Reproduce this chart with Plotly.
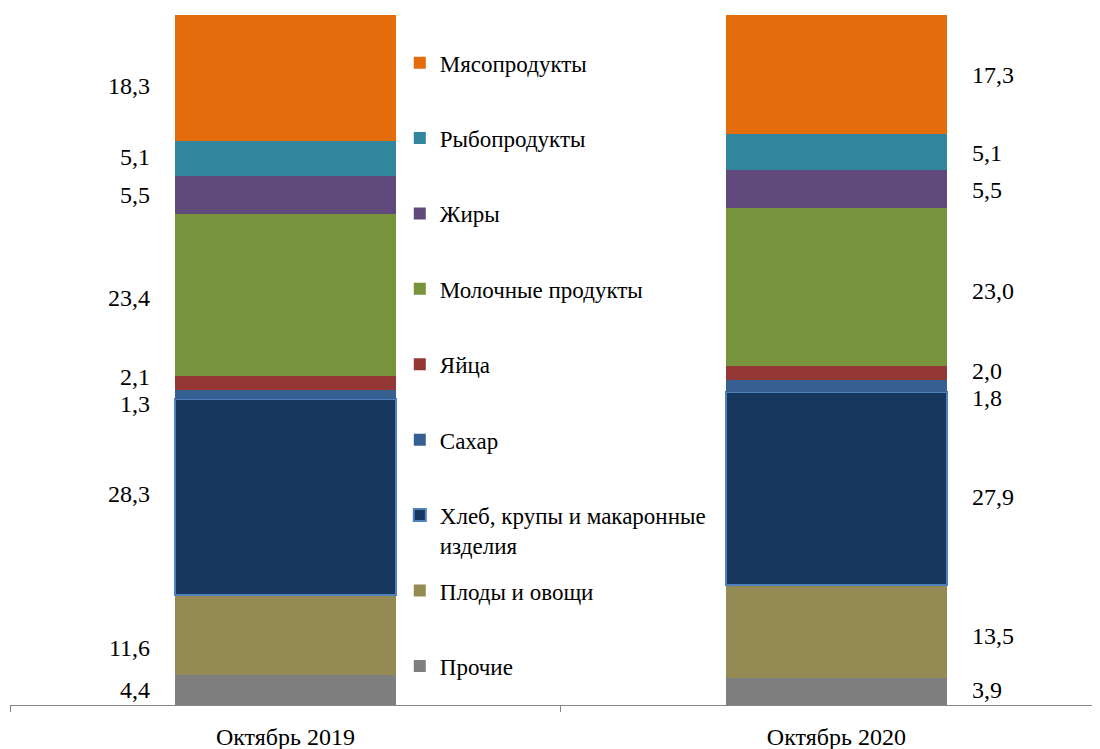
import plotly.graph_objects as go

categories = ["Октябрь 2019", "Октябрь 2020"]
# bottom to top
series_names = ["Прочие", "Плоды и овощи", "Хлеб, крупы и макаронные<br>изделия", "Сахар",
                "Яйца", "Молочные продукты", "Жиры", "Рыбопродукты", "Мясопродукты"]
values_2019 = [4.4, 11.6, 28.3, 1.3, 2.1, 23.4, 5.5, 5.1, 18.3]
values_2020 = [3.9, 13.5, 27.9, 1.8, 2.0, 23.0, 5.5, 5.1, 17.3]
colors = ["#7F7F7F", "#948A54", "#17375E", "#366092", "#953735",
          "#77933C", "#604A7B", "#31859C", "#E46C0A"]
# small vertical label nudges (px), as in the original layout
shift_2019 = [0, -13, 3, -9, 6, -3, 0, 2, -8]
shift_2020 = [2, -4, -8, -12, 2, -4, -1, -1, 0]

FONT = "Times New Roman, Liberation Serif, serif"
FS_LABEL = 24
FS_AXIS = 24
FS_LEGEND = 23

fig = go.Figure()
for i, name in enumerate(series_names):
    is_bread = i == 2
    fig.add_trace(go.Bar(
        x=categories,
        y=[values_2019[i], values_2020[i]],
        name=name,
        marker=dict(color=colors[i],
                    line=dict(color="#4F81BD" if is_bread else colors[i],
                              width=2 if is_bread else 0)),
        width=0.4,
        legendgroup=str(i),
        legendrank=100 - i,
        legend="legend2" if i < 2 else "legend",
        hoverinfo="skip",
    ))

def fmt(v):
    return f"{v:.1f}".replace(".", ",")

cum19 = 0.0
cum20 = 0.0
for i in range(len(series_names)):
    mid19 = cum19 + values_2019[i] / 2
    mid20 = cum20 + values_2020[i] / 2
    cum19 += values_2019[i]
    cum20 += values_2020[i]
    fig.add_annotation(x=0, y=mid19, xref="x", yref="y", text=fmt(values_2019[i]),
                       showarrow=False, xanchor="right", yanchor="middle",
                       xshift=-133, yshift=shift_2019[i],
                       font=dict(family=FONT, size=FS_LABEL, color="#000000"))
    fig.add_annotation(x=1, y=mid20, xref="x", yref="y", text=fmt(values_2020[i]),
                       showarrow=False, xanchor="left", yanchor="middle",
                       xshift=134, yshift=shift_2020[i],
                       font=dict(family=FONT, size=FS_LABEL, color="#000000"))

legend_common = dict(xanchor="left", yanchor="top", traceorder="grouped",
                     tracegroupgap=42.5, valign="top",
                     font=dict(family=FONT, size=FS_LEGEND, color="#000000"),
                     bgcolor="rgba(0,0,0,0)")

fig.update_layout(
    barmode="stack",
    width=1100, height=749,
    margin=dict(l=2, r=0, t=7, b=52, autoexpand=False),
    plot_bgcolor="white", paper_bgcolor="white",
    font=dict(family=FONT, size=FS_AXIS, color="#000000"),
    showlegend=True,
    legend=dict(x=0.355, y=0.962, **legend_common),
    legend2=dict(x=0.355, y=0.197, **legend_common),
    xaxis=dict(type="category", range=[-0.5, 1.493], showline=True, linecolor="#868686",
               linewidth=1, ticks="outside", tickson="boundaries", ticklen=6,
               tickcolor="#868686", showgrid=False, zeroline=False,
               ticklabelstandoff=10,
               tickfont=dict(family=FONT, size=FS_AXIS, color="#000000"), fixedrange=True),
    yaxis=dict(range=[0, 100], visible=False, showgrid=False, fixedrange=True),
)

fig.write_html("out.html")
